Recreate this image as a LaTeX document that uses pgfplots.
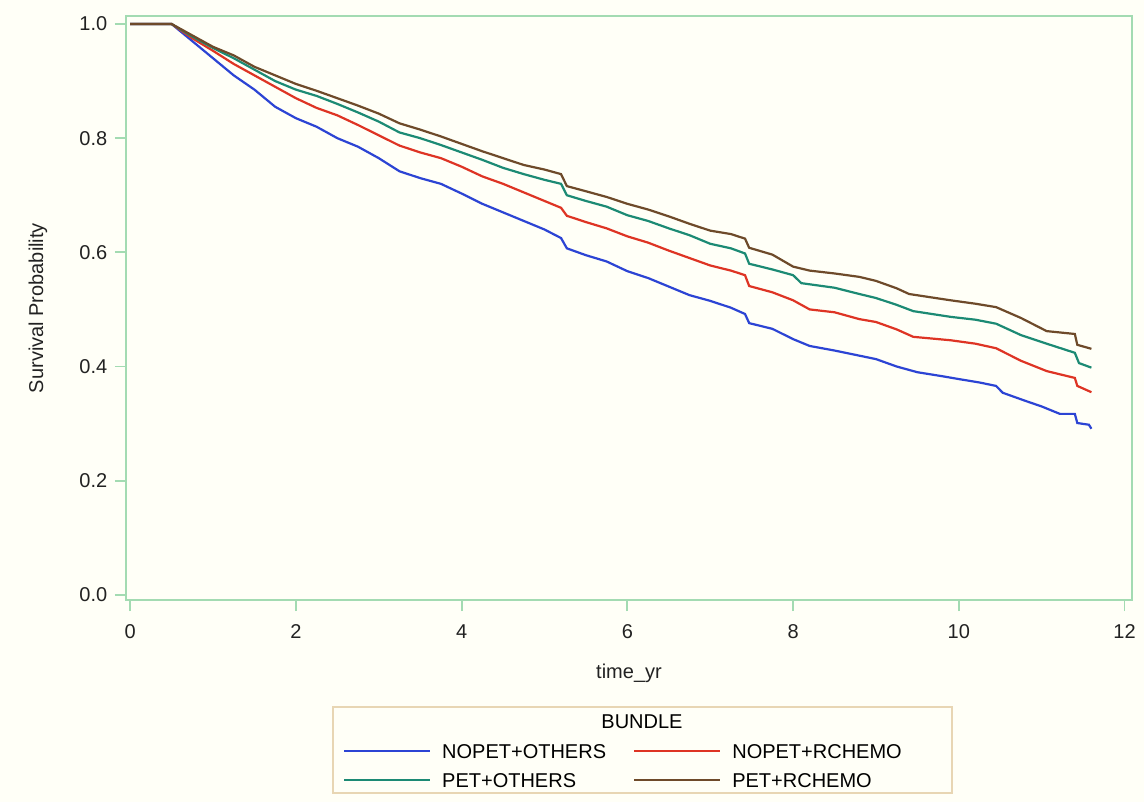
\documentclass[border=0pt]{standalone}
\usepackage{pgfplots}
\pgfplotsset{compat=1.18}
\usepackage{fontspec}
\setmainfont{Liberation Sans}
\definecolor{bgcream}{HTML}{FFFFF7}
\definecolor{framegreen}{HTML}{A3DBB2}
\definecolor{legtan}{HTML}{E8D6B4}
\definecolor{kmblue}{HTML}{2C44D4}
\definecolor{kmred}{HTML}{DE3424}
\definecolor{kmteal}{HTML}{1C8A74}
\definecolor{kmbrown}{HTML}{6E4A2A}
\definecolor{txt}{HTML}{222222}

\pgfplotstableread{
t S
0 1
0.5 1
0.75 0.97
1 0.94
1.25 0.91
1.5 0.885
1.75 0.855
2 0.835
2.25 0.82
2.5 0.80
2.75 0.785
3 0.765
3.25 0.742
3.5 0.73
3.75 0.72
4 0.703
4.25 0.685
4.5 0.67
4.75 0.655
5 0.64
5.2 0.625
5.27 0.607
5.5 0.595
5.75 0.584
6 0.567
6.25 0.555
6.5 0.54
6.75 0.525
7 0.515
7.25 0.503
7.42 0.492
7.47 0.476
7.75 0.466
8 0.448
8.2 0.436
8.5 0.428
8.8 0.419
9 0.413
9.25 0.40
9.5 0.39
9.8 0.383
10 0.378
10.25 0.372
10.45 0.366
10.53 0.354
10.8 0.34
11 0.33
11.22 0.317
11.4 0.317
11.43 0.301
11.57 0.298
11.6 0.291
}\nopetothers

\pgfplotstableread{
t S
0 1
0.5 1
0.75 0.975
1 0.953
1.25 0.93
1.5 0.91
1.75 0.89
2 0.87
2.25 0.853
2.5 0.84
2.75 0.823
3 0.805
3.25 0.787
3.5 0.775
3.75 0.765
4 0.75
4.25 0.733
4.5 0.72
4.75 0.705
5 0.69
5.2 0.678
5.27 0.664
5.5 0.653
5.75 0.642
6 0.628
6.25 0.617
6.5 0.603
6.75 0.59
7 0.577
7.25 0.568
7.42 0.56
7.47 0.541
7.75 0.53
8 0.516
8.2 0.50
8.5 0.495
8.8 0.483
9 0.478
9.25 0.465
9.45 0.452
9.9 0.446
10.2 0.44
10.45 0.432
10.75 0.41
11.06 0.392
11.4 0.38
11.43 0.366
11.6 0.355
}\nopetrchemo

\pgfplotstableread{
t S
0 1
0.5 1
0.75 0.978
1 0.958
1.25 0.94
1.5 0.92
1.75 0.90
2 0.885
2.25 0.874
2.5 0.86
2.75 0.845
3 0.829
3.25 0.81
3.5 0.80
3.75 0.788
4 0.775
4.25 0.762
4.5 0.748
4.75 0.737
5 0.727
5.2 0.72
5.27 0.70
5.5 0.69
5.75 0.68
6 0.665
6.25 0.655
6.5 0.642
6.75 0.63
7 0.615
7.25 0.607
7.42 0.598
7.47 0.58
7.75 0.57
8 0.56
8.1 0.546
8.5 0.538
8.8 0.527
9 0.52
9.25 0.508
9.45 0.497
9.9 0.487
10.2 0.482
10.45 0.475
10.75 0.455
11.06 0.44
11.4 0.424
11.45 0.406
11.6 0.398
}\petothers

\pgfplotstableread{
t S
0 1
0.5 1
0.75 0.98
1 0.96
1.25 0.945
1.5 0.925
1.75 0.91
2 0.895
2.25 0.883
2.5 0.87
2.75 0.857
3 0.843
3.25 0.826
3.5 0.815
3.75 0.803
4 0.79
4.25 0.777
4.5 0.765
4.75 0.753
5 0.745
5.2 0.737
5.27 0.716
5.5 0.707
5.75 0.697
6 0.685
6.25 0.675
6.5 0.663
6.75 0.65
7 0.638
7.25 0.632
7.42 0.624
7.47 0.608
7.75 0.596
8 0.575
8.2 0.568
8.5 0.563
8.8 0.557
9 0.55
9.25 0.537
9.4 0.527
9.9 0.516
10.2 0.51
10.45 0.504
10.75 0.485
11.06 0.462
11.4 0.457
11.43 0.438
11.6 0.431
}\petrchemo

\begin{document}
\begin{tikzpicture}
% page background, 1144x802 px at 0.5pt per px
\fill[bgcream] (-63pt,-101pt) rectangle (509pt,300pt);
\begin{axis}[
    at={(0,0)}, anchor=south west,
    scale only axis, width=503pt, height=292pt,
    xmin=-0.05, xmax=12.09, ymin=-0.009, ymax=1.014,
    axis background/.style={fill=bgcream},
    axis line style={framegreen, line width=0.9pt},
    every tick/.style={framegreen, line width=0.9pt},
    tick align=outside, major tick length=5.5pt,
    xtick pos=bottom, ytick pos=left,
    xtick={0,2,...,12}, ytick={0,0.2,...,1.0},
    yticklabel style={/pgf/number format/fixed, /pgf/number format/fixed zerofill, /pgf/number format/precision=1},
    xticklabel style={yshift=-3pt},
    /pgf/number format/assume math mode=true,
    tick label style={font=\fontsize{10}{12}\selectfont, text=txt},
    label style={font=\fontsize{10}{12}\selectfont, text=txt},
    xlabel={time\_yr},
    ylabel={Survival Probability},
    xlabel style={at={(axis description cs:0.5,-0.126)}, anchor=center},
    ylabel style={at={(axis description cs:-0.0875,0.5)}, anchor=center},
    legend columns=2,
    legend image code/.code={\draw[#1] (0pt,0pt) -- (43pt,0pt);},
    legend style={draw=none, fill=none, inner sep=0pt, outer sep=0pt,
        at={(axis description cs:0.2157,-0.24)}, anchor=north west,
        font=\fontsize{10}{12}\selectfont, text=black,
        row sep=3.5pt,
        nodes={inner sep=2pt, text depth=0pt, anchor=west},
        /tikz/every odd column/.append style={column sep=3.5pt},
        /tikz/every even column/.append style={column sep=11.5pt}},
    line width=1.1pt,
]
\addplot[kmblue, line width=1.1pt, sharp plot] table[x=t, y=S] {\nopetothers};
\addlegendentry{NOPET+OTHERS}
\addplot[kmred, line width=1.1pt, sharp plot] table[x=t, y=S] {\nopetrchemo};
\addlegendentry{NOPET+RCHEMO}
\addplot[kmteal, line width=1.1pt, sharp plot] table[x=t, y=S] {\petothers};
\addlegendentry{PET+OTHERS}
\addplot[kmbrown, line width=1.1pt, sharp plot] table[x=t, y=S] {\petrchemo};
\addlegendentry{PET+RCHEMO}
\end{axis}
% legend frame and title
\draw[legtan, line width=0.9pt] (103.5pt,-53.5pt) rectangle (413pt,-96.5pt);
\node[font=\fontsize{10}{12}\selectfont, text=black] at (258pt,-61pt) {BUNDLE};
\end{tikzpicture}
\end{document}
